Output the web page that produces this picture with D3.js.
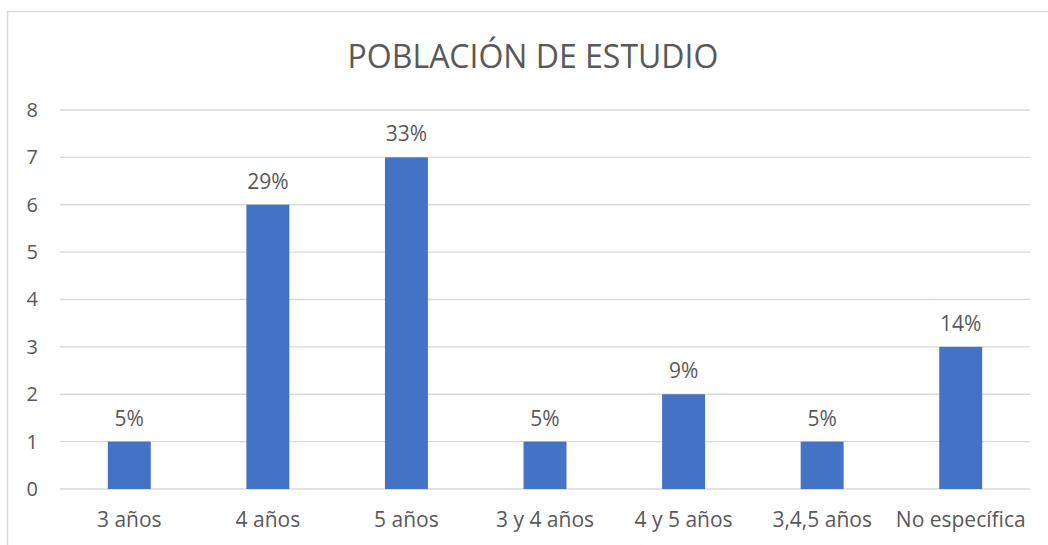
<!DOCTYPE html>
<html>
<head>
<meta charset="utf-8">
<script src="https://cdn.jsdelivr.net/npm/d3@7"></script>
<style>
  body { margin: 0; background: #fff; }
  text { font-family: "Open Sans", sans-serif; fill: #595959; }
</style>
</head>
<body>
<svg width="1048" height="545"></svg>
<script>
// chart data
const categories = ['3 años', '4 años', '5 años', '3 y 4 años', '4 y 5 años', '3,4,5 años', 'No específica'];
const values = [1, 6, 7, 1, 2, 1, 3];
const labels = ['5%', '29%', '33%', '5%', '9%', '5%', '14%'];
const yTicks = [0, 1, 2, 3, 4, 5, 6, 7, 8];

const svg = d3.select('svg');
const plot = { left: 60, right: 1030, top: 110, bottom: 489 };

// chart frame (only top and left visible in the crop)
svg.append('rect')
  .attr('x', 7.5).attr('y', 11.5)
  .attr('width', 1100).attr('height', 600)
  .attr('fill', 'none').attr('stroke', '#d9d9d9').attr('stroke-width', 1.5);

const x = d3.scaleBand().domain(categories)
  .range([plot.left, plot.right]).paddingInner(0.69).paddingOuter(0.345);
const y = d3.scaleLinear().domain([0, 8]).range([plot.bottom, plot.top]);

// gridlines
svg.append('g').selectAll('line').data(yTicks).join('line')
  .attr('x1', plot.left).attr('x2', plot.right)
  .attr('y1', d => y(d)).attr('y2', d => y(d))
  .attr('stroke', '#d9d9d9').attr('stroke-width', 1.3);

// y axis labels
const yAxis = svg.append('g')
  .attr('transform', 'translate(' + (plot.left - 22) + ',0)')
  .call(d3.axisLeft(y).tickValues(yTicks).tickSize(0).tickPadding(0));
yAxis.select('.domain').remove();
yAxis.selectAll('text').style('font-size', '20px')
  .style('font-family', '"Open Sans", sans-serif').attr('fill', '#595959');

// x axis labels
const xAxis = svg.append('g')
  .attr('transform', 'translate(0,' + (plot.bottom + 23) + ')')
  .call(d3.axisBottom(x).tickSize(0).tickPadding(0));
xAxis.select('.domain').remove();
xAxis.selectAll('text').style('font-size', '21px')
  .style('font-family', '"Open Sans", sans-serif').attr('fill', '#595959');

// bars
svg.append('g').selectAll('rect').data(values).join('rect')
  .attr('x', (d, i) => x(categories[i]))
  .attr('y', d => y(d))
  .attr('width', x.bandwidth())
  .attr('height', d => y(0) - y(d))
  .attr('fill', '#4472c4');

// data labels
svg.append('g').selectAll('text').data(values).join('text')
  .attr('x', (d, i) => x(categories[i]) + x.bandwidth() / 2)
  .attr('y', d => y(d) - 16)
  .attr('text-anchor', 'middle')
  .style('font-size', '21px')
  .text((d, i) => labels[i]);

// title
svg.append('text')
  .attr('x', 533).attr('y', 68)
  .attr('text-anchor', 'middle')
  .style('font-size', '32px')
  .text('POBLACIÓN DE ESTUDIO');
</script>
</body>
</html>
